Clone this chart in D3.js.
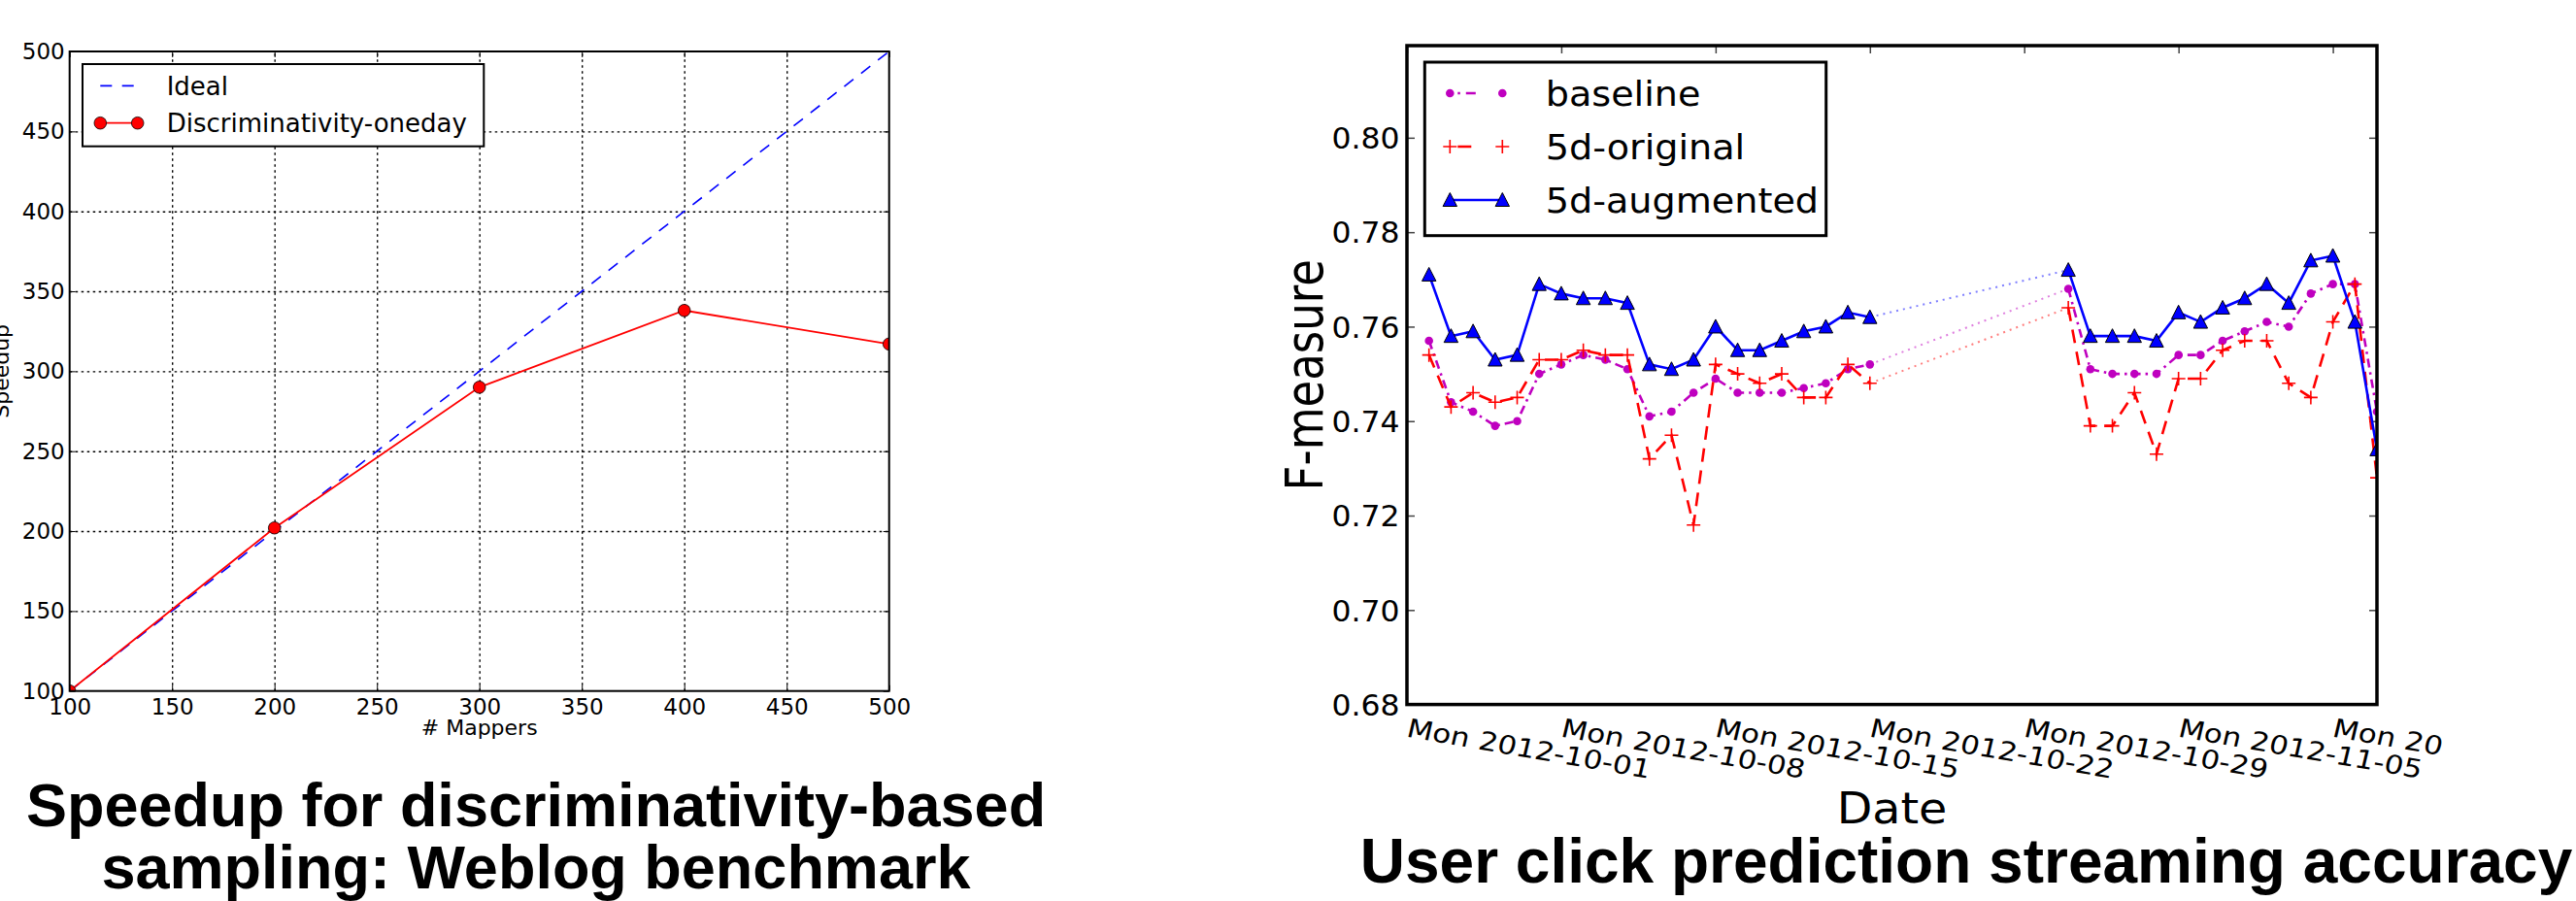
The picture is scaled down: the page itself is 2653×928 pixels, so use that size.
<!DOCTYPE html>
<html><head><meta charset="utf-8">
<script src="https://cdn.jsdelivr.net/npm/d3@7"></script>
<style>html,body{margin:0;padding:0;background:#fff;overflow:hidden}</style>
</head><body>
<svg id="c" width="2653" height="928" xmlns="http://www.w3.org/2000/svg"></svg>
<script>
// ---------- Left chart data ----------
const mappers = [100, 200, 300, 400, 500];
const idealSpeedup = [100, 200, 300, 400, 500];
const discSpeedup = [100, 202, 290, 338, 317];
const leftTicks = [100, 150, 200, 250, 300, 350, 400, 450, 500];
const leftLegend = ["Ideal", "Discriminativity-oneday"];
const leftXLabel = "# Mappers";
const leftYLabel = "Speedup";
const leftTitle = ["Speedup for discriminativity-based", "sampling: Weblog benchmark"];

// ---------- Right chart data ----------
const dates = [
  "2012-10-02","2012-10-03","2012-10-04","2012-10-05","2012-10-06","2012-10-07","2012-10-08",
  "2012-10-09","2012-10-10","2012-10-11","2012-10-12","2012-10-13","2012-10-14","2012-10-15",
  "2012-10-16","2012-10-17","2012-10-18","2012-10-19","2012-10-20","2012-10-21","2012-10-22",
  "2012-10-31","2012-11-01","2012-11-02","2012-11-03","2012-11-04","2012-11-05","2012-11-06",
  "2012-11-07","2012-11-08","2012-11-09","2012-11-10","2012-11-11","2012-11-12","2012-11-13","2012-11-14"
];
const baseline = [
  0.757,0.744,0.742,0.739,0.740,0.750,0.752,0.754,0.753,0.751,0.741,0.742,0.746,0.749,
  0.746,0.746,0.746,0.747,0.748,0.751,0.752,
  0.768,0.751,0.750,0.750,0.750,0.754,0.754,0.757,0.759,0.761,0.760,0.767,0.769,0.769,0.742
];
const original5d = [
  0.754,0.743,0.746,0.744,0.745,0.753,0.753,0.755,0.754,0.754,0.732,0.737,0.718,0.752,
  0.750,0.748,0.750,0.745,0.745,0.752,0.748,
  0.764,0.739,0.739,0.746,0.733,0.749,0.749,0.755,0.757,0.757,0.748,0.745,0.761,0.769,0.728
];
const augmented5d = [
  0.771,0.758,0.759,0.753,0.754,0.769,0.767,0.766,0.766,0.765,0.752,0.751,0.753,0.760,
  0.755,0.755,0.757,0.759,0.760,0.763,0.762,
  0.772,0.758,0.758,0.758,0.757,0.763,0.761,0.764,0.766,0.769,0.765,0.774,0.775,0.761,0.734
];
const seriesNames = ["baseline", "5d-original", "5d-augmented"];
const rightYTicks = [0.68, 0.70, 0.72, 0.74, 0.76, 0.78, 0.80];
const rightXTicks = ["2012-10-01","2012-10-08","2012-10-15","2012-10-22","2012-10-29","2012-11-05","2012-11-12"];
const rightXDomain = ["2012-10-01", "2012-11-14"];
const rightYDomain = [0.68, 0.8195];
const rightXLabel = "Date";
const rightYLabel = "F-measure";
const rightTitle = "User click prediction streaming accuracy";

// ---------- Drawing ----------
const FONT = "'DejaVu Sans', Verdana, sans-serif";
const TFONT = "'Liberation Sans', Arial, Helvetica, sans-serif";
const svg = d3.select("#c");
const defs = svg.append("defs");

// ===== LEFT CHART =====
const L = {left: 71.7, right: 915.7, top: 53, bottom: 711.7};
const lx = d3.scaleLinear().domain([100, 500]).range([L.left, L.right]);
const ly = d3.scaleLinear().domain([100, 500]).range([L.bottom, L.top]);
defs.append("clipPath").attr("id", "clipL").append("rect")
  .attr("x", L.left).attr("y", L.top).attr("width", L.right - L.left).attr("height", L.bottom - L.top);

const gL = svg.append("g");
// grid
gL.append("g").attr("transform", `translate(0,${L.bottom})`)
  .call(d3.axisBottom(lx).tickValues(leftTicks.slice(1, -1)).tickSize(-(L.bottom - L.top)).tickFormat(""))
  .call(g => g.select(".domain").remove())
  .selectAll("line").attr("stroke", "#000").attr("stroke-width", 1.4).attr("stroke-dasharray", "2.5,3.5");
gL.append("g").attr("transform", `translate(${L.left},0)`)
  .call(d3.axisLeft(ly).tickValues(leftTicks.slice(1, -1)).tickSize(-(L.right - L.left)).tickFormat(""))
  .call(g => g.select(".domain").remove())
  .selectAll("line").attr("stroke", "#000").attr("stroke-width", 1.4).attr("stroke-dasharray", "2.5,3.5");

// axes with labels
const lxAxis = gL.append("g").attr("transform", `translate(0,${L.bottom})`)
  .call(d3.axisBottom(lx).tickValues(leftTicks).tickSizeInner(-6).tickSizeOuter(0).tickPadding(8));
const lyAxis = gL.append("g").attr("transform", `translate(${L.left},0)`)
  .call(d3.axisLeft(ly).tickValues(leftTicks).tickSizeInner(-6).tickSizeOuter(0).tickPadding(5));
[lxAxis, lyAxis].forEach(a => {
  a.select(".domain").remove();
  a.selectAll("line").attr("stroke", "#000").attr("stroke-width", 1);
  a.selectAll("text").attr("font-family", FONT).attr("font-size", 23).attr("fill", "#000");
});
// top/right ticks
gL.append("g").attr("transform", `translate(0,${L.top})`)
  .call(d3.axisTop(lx).tickValues(leftTicks).tickSizeInner(-6).tickSizeOuter(0).tickFormat(""))
  .call(g => g.select(".domain").remove()).selectAll("line").attr("stroke", "#000");
gL.append("g").attr("transform", `translate(${L.right},0)`)
  .call(d3.axisRight(ly).tickValues(leftTicks).tickSizeInner(-6).tickSizeOuter(0).tickFormat(""))
  .call(g => g.select(".domain").remove()).selectAll("line").attr("stroke", "#000");

// data
const plotL = gL.append("g").attr("clip-path", "url(#clipL)");
const lineL = d3.line().x(d => lx(d[0])).y(d => ly(d[1]));
plotL.append("path").datum(mappers.map((m, i) => [m, idealSpeedup[i]]))
  .attr("d", lineL).attr("fill", "none").attr("stroke", "#0000ff").attr("stroke-width", 1.6)
  .attr("stroke-dasharray", "12,10");
const discPts = mappers.map((m, i) => [m, discSpeedup[i]]);
plotL.append("path").datum(discPts)
  .attr("d", lineL).attr("fill", "none").attr("stroke", "#ff0000").attr("stroke-width", 1.8);
plotL.selectAll("circle.d").data(discPts).join("circle")
  .attr("cx", d => lx(d[0])).attr("cy", d => ly(d[1])).attr("r", 6.3)
  .attr("fill", "#ff0000").attr("stroke", "#000").attr("stroke-width", 0.8);

// frame
gL.append("rect").attr("x", L.left).attr("y", L.top).attr("width", L.right - L.left).attr("height", L.bottom - L.top)
  .attr("fill", "none").attr("stroke", "#000").attr("stroke-width", 2);

// legend
const legL = gL.append("g");
legL.append("rect").attr("x", 85).attr("y", 66).attr("width", 413.3).attr("height", 84.7)
  .attr("fill", "#fff").attr("stroke", "#000").attr("stroke-width", 2);
const legLy = [88.3, 126.7];
legL.append("line").attr("x1", 103.3).attr("x2", 141.7).attr("y1", legLy[0]).attr("y2", legLy[0])
  .attr("stroke", "#0000ff").attr("stroke-width", 1.8).attr("stroke-dasharray", "12,10.4");
legL.append("line").attr("x1", 103.3).attr("x2", 141.7).attr("y1", legLy[1]).attr("y2", legLy[1])
  .attr("stroke", "#ff0000").attr("stroke-width", 1.8);
legL.selectAll("circle").data([103.3, 141.7]).join("circle")
  .attr("cx", d => d).attr("cy", legLy[1]).attr("r", 6.3)
  .attr("fill", "#ff0000").attr("stroke", "#000").attr("stroke-width", 0.8);
legL.selectAll("text").data(leftLegend).join("text")
  .attr("x", 171.7).attr("y", (d, i) => legLy[i] + 9.5)
  .attr("font-family", FONT).attr("font-size", 26).text(d => d);

// axis labels
gL.append("text").attr("x", (L.left + L.right) / 2).attr("y", 757).attr("text-anchor", "middle")
  .attr("font-family", FONT).attr("font-size", 22).text(leftXLabel);
gL.append("text").attr("transform", `translate(9,${(L.top + L.bottom) / 2}) rotate(-90)`)
  .attr("text-anchor", "middle").attr("font-family", FONT).attr("font-size", 22).text(leftYLabel);

// title
svg.append("g").selectAll("text").data(leftTitle).join("text")
  .attr("x", 552).attr("y", (d, i) => 851 + i * 64).attr("text-anchor", "middle")
  .attr("font-family", TFONT).attr("font-weight", "bold").attr("font-size", 63).text(d => d);

// ===== RIGHT CHART =====
const parse = d3.timeParse("%Y-%m-%d");
const R = {left: 1449, right: 2448, top: 47, bottom: 725.6};
const SX = 1.17; // horizontal stretch of the right figure's text
const rx = d3.scaleTime().domain(rightXDomain.map(parse)).range([R.left, R.right]);
const ry = d3.scaleLinear().domain(rightYDomain).range([R.bottom, R.top]);
defs.append("clipPath").attr("id", "clipR").append("rect")
  .attr("x", R.left).attr("y", R.top).attr("width", R.right - R.left).attr("height", R.bottom - R.top);
defs.append("clipPath").attr("id", "clipImg").append("rect")
  .attr("x", 1200).attr("y", 0).attr("width", 2515 - 1200).attr("height", 928);

const gR = svg.append("g");
const TICKC = "#444";
const ax1 = gR.append("g").attr("transform", `translate(${R.left},0)`)
  .call(d3.axisLeft(ry).tickValues(rightYTicks).tickFormat(d3.format(".2f")).tickSizeInner(-8).tickSizeOuter(0).tickPadding(7));
const ax2 = gR.append("g").attr("transform", `translate(${R.right},0)`)
  .call(d3.axisRight(ry).tickValues(rightYTicks).tickFormat("").tickSizeInner(-8).tickSizeOuter(0));
const ax3 = gR.append("g").attr("transform", `translate(0,${R.top})`)
  .call(d3.axisTop(rx).tickValues(rightXTicks.map(parse)).tickFormat("").tickSizeInner(-8).tickSizeOuter(0));
const ax4 = gR.append("g").attr("transform", `translate(0,${R.bottom})`).attr("clip-path", "url(#clipImg)")
  .call(d3.axisBottom(rx).tickValues(rightXTicks.map(parse)).tickFormat(d3.timeFormat("%a %Y-%m-%d")).tickSizeInner(-8).tickSizeOuter(0));
[ax1, ax2, ax3, ax4].forEach(a => {
  a.select(".domain").remove();
  a.selectAll("line").attr("stroke", TICKC).attr("stroke-width", 1.5);
});
ax1.selectAll("text").attr("font-family", FONT).attr("font-size", 30).attr("fill", "#000")
  .attr("transform", "scale(1.05,1)").attr("dy", "0.36em");
ax4.selectAll("text").attr("font-family", FONT).attr("font-size", 26.5).attr("fill", "#000")
  .attr("text-anchor", "start").attr("y", 0).attr("dy", 0)
  .attr("transform", `translate(-2,33) scale(${SX},1) rotate(11.4)`);

// series
const dts = dates.map(parse);
function runs(vals) {
  const out = []; let cur = [];
  dts.forEach((d, i) => {
    if (i > 0 && (d - dts[i - 1]) > 1.5 * 864e5) { out.push(cur); cur = []; }
    cur.push({d: d, v: vals[i]});
  });
  out.push(cur);
  return out;
}
const series = [
  {name: seriesNames[0], vals: baseline, color: "#bf00bf", dash: "9,5,2.5,5", marker: "circle"},
  {name: seriesNames[1], vals: original5d, color: "#ff0000", dash: "14,9", marker: "plus"},
  {name: seriesNames[2], vals: augmented5d, color: "#0000ff", dash: null, marker: "tri"}
];
const lineR = d3.line().x(d => rx(d.d)).y(d => ry(d.v));
const plotR = gR.append("g").attr("clip-path", "url(#clipR)");
const triPath = "M0,-7.5L7.2,6.5L-7.2,6.5Z";
const plusPath = "M-7,0H7M0,-7V7";
function drawMarker(sel, s) {
  if (s.marker === "circle") {
    sel.append("circle").attr("r", 4.3).attr("fill", s.color);
  } else if (s.marker === "plus") {
    sel.append("path").attr("d", plusPath).attr("stroke", s.color).attr("stroke-width", 1.6).attr("fill", "none");
  } else {
    sel.append("path").attr("d", triPath).attr("fill", s.color).attr("stroke", "#000").attr("stroke-width", 1);
  }
}
// gap connectors
series.forEach(s => {
  const rs = runs(s.vals);
  for (let k = 0; k + 1 < rs.length; k++) {
    plotR.append("path").datum([rs[k][rs[k].length - 1], rs[k + 1][0]])
      .attr("d", lineR).attr("fill", "none").attr("stroke", s.color).attr("stroke-opacity", 0.5)
      .attr("stroke-width", 2).attr("stroke-dasharray", "2,5");
  }
});
series.forEach(s => {
  const rs = runs(s.vals);
  rs.forEach(r => {
    const p = plotR.append("path").datum(r).attr("d", lineR).attr("fill", "none")
      .attr("stroke", s.color).attr("stroke-width", 2.6);
    if (s.dash) p.attr("stroke-dasharray", s.dash);
  });
  const mk = plotR.append("g").selectAll("g").data(rs.flat()).join("g")
    .attr("transform", d => `translate(${rx(d.d)},${ry(d.v)})`);
  drawMarker(mk, s);
});

// frame
gR.append("rect").attr("x", R.left).attr("y", R.top).attr("width", R.right - R.left).attr("height", R.bottom - R.top)
  .attr("fill", "none").attr("stroke", "#000").attr("stroke-width", 3.5);

// legend
const legR = gR.append("g");
legR.append("rect").attr("x", 1467.3).attr("y", 64).attr("width", 413.4).attr("height", 178.7)
  .attr("fill", "#fff").attr("stroke", "#000").attr("stroke-width", 3);
series.forEach((s, i) => {
  const y = 96 + i * 55;
  const ln = legR.append("line").attr("x1", 1493.3).attr("x2", 1547.3).attr("y1", y).attr("y2", y)
    .attr("stroke", s.color).attr("stroke-width", 2.6);
  if (s.dash) ln.attr("stroke-dasharray", s.marker === "plus" ? "0,8,14,40" : "0,8,2.5,6,10,40");
  const mk = legR.append("g").selectAll("g").data([1493.3, 1547.3]).join("g")
    .attr("transform", d => `translate(${d},${y})`);
  drawMarker(mk, s);
  legR.append("text").attr("x", 0).attr("y", 0).attr("font-family", FONT).attr("font-size", 35)
    .attr("transform", `translate(1591.7,${y + 13}) scale(1.09,1)`).text(s.name);
});

// axis labels
gR.append("text").attr("transform", `translate(${(R.left + R.right) / 2},848) scale(1.08,1)`)
  .attr("text-anchor", "middle").attr("font-family", FONT).attr("font-size", 44).text(rightXLabel);
gR.append("text").attr("transform", `translate(1362,${(R.top + R.bottom) / 2}) scale(${SX},1) rotate(-90)`)
  .attr("text-anchor", "middle").attr("font-family", FONT).attr("font-size", 45).text(rightYLabel);

// title
svg.append("text").attr("x", 2025).attr("y", 909).attr("text-anchor", "middle")
  .attr("font-family", TFONT).attr("font-weight", "bold").attr("font-size", 64).text(rightTitle);
</script>
</body></html>
